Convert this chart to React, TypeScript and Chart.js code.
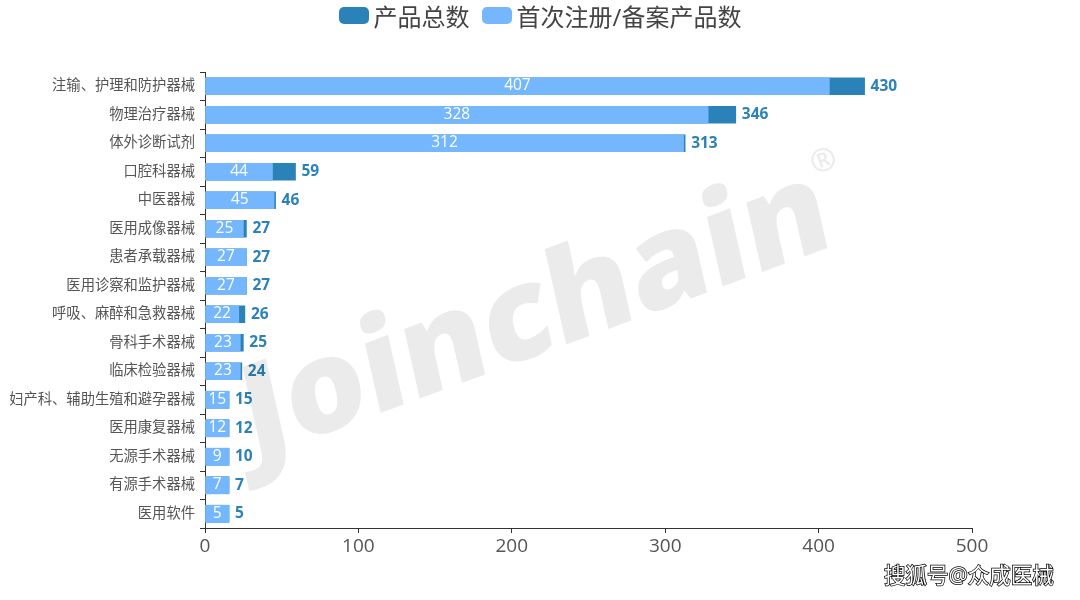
import { useEffect, useRef } from "react"
import { Chart, registerables } from "chart.js"

Chart.register(...registerables)

const categories = [
  "注输、护理和防护器械",
  "物理治疗器械",
  "体外诊断试剂",
  "口腔科器械",
  "中医器械",
  "医用成像器械",
  "患者承载器械",
  "医用诊察和监护器械",
  "呼吸、麻醉和急救器械",
  "骨科手术器械",
  "临床检验器械",
  "妇产科、辅助生殖和避孕器械",
  "医用康复器械",
  "无源手术器械",
  "有源手术器械",
  "医用软件",
]
const totals = [430, 346, 313, 59, 46, 27, 27, 27, 26, 25, 24, 15, 12, 10, 7, 5]
const firstRegistered = [407, 328, 312, 44, 45, 25, 27, 27, 22, 23, 23, 15, 12, 9, 7, 5]
const seriesNames = ["产品总数", "首次注册/备案产品数"]

const DARK = "#2b82b8"
const LIGHT = "#75b7ff"
const FONT = '"Open Sans", "Noto Sans CJK SC", sans-serif'
const seriesColors = [DARK, LIGHT]

const barLabels = {
  id: "barLabels",
  afterDatasetsDraw(chart: Chart) {
    const { ctx } = chart
    const totalBars = chart.getDatasetMeta(0).data
    const firstBars = chart.getDatasetMeta(1).data
    ctx.save()
    ctx.textBaseline = "middle"
    totalBars.forEach((bar: any, i: number) => {
      ctx.font = `bold 15.5px ${FONT}`
      ctx.fillStyle = DARK
      ctx.textAlign = "left"
      ctx.fillText(String(totals[i]), bar.x + 6, bar.y)
    })
    firstBars.forEach((bar: any, i: number) => {
      ctx.font = `15.5px ${FONT}`
      ctx.fillStyle = "#fff"
      ctx.textAlign = "center"
      ctx.fillText(String(firstRegistered[i]), (bar.base + bar.x) / 2, bar.y - 0.5)
    })
    ctx.restore()
  },
}

// watermark and the site credit sit on top of everything
const watermark = {
  id: "watermark",
  afterDraw(chart: Chart) {
    const { ctx } = chart
    ctx.save()
    ctx.transform(0.938, -0.347, 0.22, 0.976, 835, 245)
    ctx.font = '800 129px "Open Sans", sans-serif'
    ctx.fillStyle = "rgba(0,0,0,0.08)"
    ctx.textAlign = "right"
    ctx.textBaseline = "alphabetic"
    ctx.fillText("Joinchain", 0, 0)
    ctx.restore()

    ctx.save()
    ctx.translate(824, 162)
    ctx.rotate((-20 * Math.PI) / 180)
    ctx.font = 'bold 32px "Open Sans", sans-serif'
    ctx.fillStyle = "rgba(0,0,0,0.08)"
    ctx.textAlign = "center"
    ctx.textBaseline = "middle"
    ctx.fillText("®", 0, 0)
    ctx.restore()

    ctx.save()
    ctx.font = `21.5px ${FONT}`
    ctx.textAlign = "left"
    ctx.textBaseline = "middle"
    ctx.lineWidth = 1.5
    ctx.strokeStyle = "#000"
    ctx.strokeText("搜狐号@众成医械", 884, 577)
    ctx.fillStyle = "#fff"
    ctx.fillText("搜狐号@众成医械", 884, 577)
    ctx.restore()
  },
}

export default function App() {
  const chartRef = useRef<HTMLCanvasElement>(null)

  useEffect(() => {
    if (!chartRef.current) return
    const chart = new Chart(chartRef.current, {
      type: "bar",
      data: {
        labels: categories,
        datasets: [
          {
            label: seriesNames[0],
            data: totals,
            backgroundColor: DARK,
            order: 2,
            grouped: false,
            barThickness: 17,
            minBarLength: 24,
          },
          {
            label: seriesNames[1],
            data: firstRegistered,
            backgroundColor: LIGHT,
            order: 1,
            grouped: false,
            barThickness: 17,
            minBarLength: 24,
          },
        ],
      },
      options: {
        indexAxis: "y",
        responsive: false,
        animation: false,
        layout: { padding: { top: 72, right: 108, left: 0, bottom: 0 } },
        plugins: {
          tooltip: { enabled: false },
          legend: { display: false },
        },
        scales: {
          x: {
            min: 0,
            max: 500,
            afterFit: (scale: any) => {
              scale.height = 72
            },
            ticks: { stepSize: 100, color: "#555", font: { size: 19, family: FONT }, padding: 2, maxRotation: 0 },
            grid: { drawOnChartArea: false, color: "#333", tickLength: 5 },
            border: { color: "#333" },
          },
          y: {
            afterFit: (scale: any) => {
              scale.width = 205
            },
            ticks: { color: "#555", font: { size: 14.3, family: FONT }, padding: 5, autoSkip: false },
            grid: { drawOnChartArea: false, color: "#333", tickLength: 5 },
            border: { color: "#333" },
          },
        },
      },
      plugins: [barLabels, watermark],
    })
    return () => chart.destroy()
  }, [])

  return (
    <div style={{ position: "relative", width: 1080, height: 600 }}>
      <style>{"body{margin:0}"}</style>
      <canvas ref={chartRef} width={1080} height={600} style={{ display: "block" }} />
      <div
        style={{
          position: "absolute",
          top: 0,
          left: 0,
          width: 1080,
          height: 31,
          display: "flex",
          justifyContent: "center",
          alignItems: "center",
          gap: 12,
          font: `24px ${FONT}`,
          color: "#444",
        }}
      >
        {seriesNames.map((name, i) => (
          <div key={name} style={{ display: "flex", alignItems: "center", gap: 5 }}>
            <span style={{ width: 30, height: 17, borderRadius: 5, background: seriesColors[i] }} />
            <span>{name}</span>
          </div>
        ))}
      </div>
    </div>
  )
}
